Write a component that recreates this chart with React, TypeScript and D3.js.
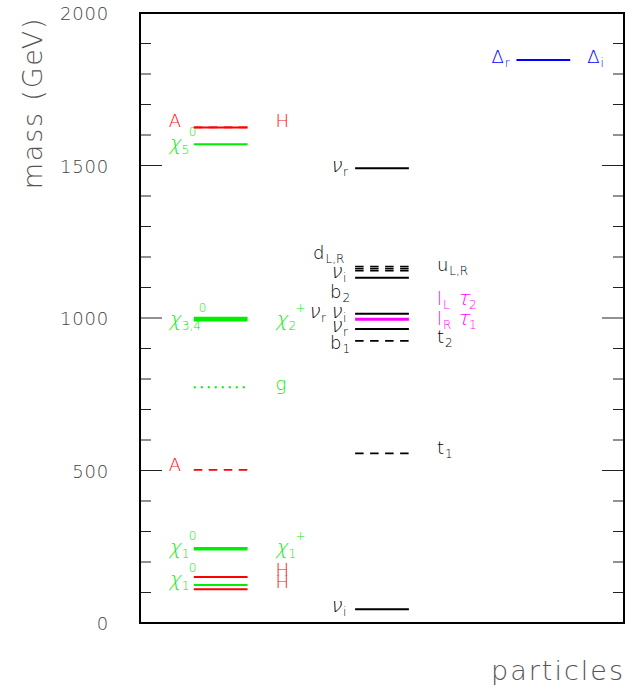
import React from "react";
import * as d3 from "d3";

// ---------- data ----------
const yTicks = [0, 500, 1000, 1500, 2000];
const minorTicks = d3.range(0, 2001, 100);

// energy levels: column (0,1,2), mass (GeV), colour, style
const levelCols = [0, 0, 0, 0, 0, 0, 0, 0, 0, 0, 0, 0, 1, 1, 1, 1, 1, 1, 1, 1, 1, 1, 1, 2];
const levelMass = [1625, 1625, 1570, 1000, 993, 773, 502, 246, 241, 151, 125, 111, 1491, 1169, 1162, 1155, 1132, 1014, 996, 964, 925, 556, 45, 1846];
const levelColor = ["red", "red", "green", "green", "green", "green", "red", "green", "green", "red", "green", "red", "black", "black", "black", "black", "black", "black", "magenta", "black", "black", "black", "black", "blue"];
const levelStyle = ["solid", "dashed", "solid", "solid", "solid", "dotted", "dashed", "solid", "solid", "solid", "solid", "solid", "solid", "dashed", "dashed", "dashed", "solid", "solid", "solid", "solid", "dashed", "dashed", "solid", "solid"];

// labels: column, side, mass at label centre, main text, subscript, superscript
type Lab = { col: number; side: "L" | "R" | "L2" | "L3"; m: number; t: string; sub?: string; sup?: string; c: string };
const labels: Lab[] = [
  { col: 0, side: "L", m: 1645, t: "A", c: "red" },
  { col: 0, side: "L", m: 1570, t: "χ", sub: "5", sup: "0", c: "green" },
  { col: 0, side: "R", m: 1645, t: "H", c: "red" },
  { col: 0, side: "L", m: 995, t: "χ", sub: "3,4", sup: "0", c: "green" },
  { col: 0, side: "R", m: 995, t: "χ", sub: "2", sup: "+", c: "green" },
  { col: 0, side: "R", m: 783, t: "g", c: "green" },
  { col: 0, side: "L", m: 518, t: "A", c: "red" },
  { col: 0, side: "L", m: 246, t: "χ", sub: "1", sup: "0", c: "green" },
  { col: 0, side: "R", m: 246, t: "χ", sub: "1", sup: "+", c: "green" },
  { col: 0, side: "L", m: 141, t: "χ", sub: "1", sup: "0", c: "green" },
  { col: 0, side: "R", m: 173, t: "H", c: "red" },
  { col: 0, side: "R", m: 134, t: "H", c: "red" },
  { col: 1, side: "L", m: 1498, t: "ν", sub: "r", c: "black" },
  { col: 1, side: "L2", m: 1213, t: "d", sub: "L,R", c: "black" },
  { col: 1, side: "L", m: 1150, t: "ν", sub: "i", c: "black" },
  { col: 1, side: "L", m: 1085, t: "b", sub: "2", c: "black" },
  { col: 1, side: "L", m: 1020, t: "ν", sub: "i", c: "black" },
  { col: 1, side: "L3", m: 1020, t: "ν", sub: "r", c: "black" },
  { col: 1, side: "L", m: 975, t: "ν", sub: "r", c: "black" },
  { col: 1, side: "L", m: 917, t: "b", sub: "1", c: "black" },
  { col: 1, side: "L", m: 55, t: "ν", sub: "i", c: "black" },
  { col: 1, side: "R", m: 1175, t: "u", sub: "L,R", c: "black" },
  { col: 1, side: "R", m: 1062, t: "l", sub: "L", c: "magenta" },
  { col: 1, side: "R", m: 997, t: "l", sub: "R", c: "magenta" },
  { col: 1, side: "R", m: 937, t: "t", sub: "2", c: "black" },
  { col: 1, side: "R", m: 575, t: "t", sub: "1", c: "black" },
  { col: 2, side: "L", m: 1856, t: "Δ", sub: "r", c: "blue" },
  { col: 2, side: "R", m: 1856, t: "Δ", sub: "i", c: "blue" },
];
const tauLabels: Lab[] = [
  { col: 1, side: "R", m: 1062, t: "τ", sub: "2", c: "magenta" },
  { col: 1, side: "R", m: 997, t: "τ", sub: "1", c: "magenta" },
];

const colorMap: Record<string, string> = {
  red: "#ff0d0d",
  green: "#00ee00",
  black: "#000000",
  magenta: "#ff00ff",
  blue: "#0000ff",
};
const lineColor: Record<string, string> = {
  red: "#ff0000",
  green: "#00ee00",
  black: "#000000",
  magenta: "#ff00ff",
  blue: "#0000ff",
};

const W = 637;
const H = 688;
const FONT = "'DejaVu Sans', sans-serif";

export default function App() {
  const y = d3.scaleLinear().domain([0, 2000]).range([623, 13]);
  const x = d3.scaleLinear().domain([0, 3]).range([140, 624]);
  const half = 1 / 6;

  const levels = levelMass.map((m, i) => ({
    col: levelCols[i],
    m,
    color: levelColor[i],
    style: levelStyle[i],
  }));

  const dash = (s: string) => (s === "dashed" ? "8.5,6.5" : s === "dotted" ? "2,5" : undefined);
  const widthOf = (l: { color: string; style: string; m: number }) =>
    l.color === "magenta" ? 3 : l.style === "dotted" ? 2 : l.style === "dashed" ? 1.6 : l.color === "green" && (l.m === 1000 || l.m === 993) ? 2.5 : 2;

  const labelX = (l: Lab) => {
    const c = l.col + 0.5;
    if (l.side === "L") return x(c - half) - 25;
    if (l.side === "L2") return x(c - half) - 42;
    if (l.side === "L3") return x(c - half) - 47;
    return x(c + half) + (l.col === 2 ? 17 : 28);
  };

  const greekW: Record<string, number> = { "ν": 12, "χ": 12, "τ": 11 };

  const renderLabel = (l: Lab, key: string, dx = 0) => {
    const lx = labelX(l) + dx;
    const ly = y(l.m) + 6;
    const col = colorMap[l.c];
    const greek = l.t in greekW;
    const mainW = greek ? greekW[l.t] : 0;
    return (
      <g key={key} fill={col} fontFamily={FONT} fontWeight={300}>
        {greek ? (
          <>
            <text transform={`translate(${lx},${ly}) skewX(-14)`} fontSize={20}>
              {l.t}
            </text>
            {l.sub && (
              <text x={lx + mainW + 1} y={ly + 4} fontSize={12}>
                {l.sub}
              </text>
            )}
          </>
        ) : (
          <text x={lx} y={ly} fontSize={18}>
            {l.t}
            {l.sub && (
              <tspan fontSize={12} dy={4} dx={1}>
                {l.sub}
              </tspan>
            )}
          </text>
        )}
        {l.sup && (
          <text x={lx + (l.sub && l.sub.length > 1 ? 30 : 20)} y={ly - 14} fontSize={12}>
            {l.sup}
          </text>
        )}
      </g>
    );
  };

  return (
    <svg width={W} height={H} style={{ position: "absolute", left: 0, top: 0, background: "#fff" }}>
      {/* levels */}
      {levels.map((l, i) => {
        const c = l.col + 0.5;
        return (
          <line
            key={"lv" + i}
            x1={x(c - half)}
            x2={x(c + half)}
            y1={y(l.m)}
            y2={y(l.m)}
            stroke={lineColor[l.color]}
            strokeWidth={widthOf(l)}
            strokeDasharray={dash(l.style)}
          />
        );
      })}

      {/* labels */}
      {labels.map((l, i) => renderLabel(l, "lb" + i))}
      {tauLabels.map((l, i) => renderLabel(l, "tau" + i, 20))}

      {/* ticks */}
      {minorTicks.map((t) => {
        const len = t % 500 === 0 ? 22 : 11;
        return (
          <g key={"tk" + t} stroke="#222" strokeWidth={1}>
            <line x1={x(0)} x2={x(0) + len} y1={y(t)} y2={y(t)} />
            <line x1={x(3)} x2={x(3) - len} y1={y(t)} y2={y(t)} />
          </g>
        );
      })}

      {/* frame */}
      <rect x={x(0)} y={y(2000)} width={x(3) - x(0)} height={y(0) - y(2000)} fill="none" stroke="#000" strokeWidth={2} />

      {/* tick labels */}
      {yTicks.map((t) => (
        <text
          key={"tl" + t}
          x={109}
          y={y(t) + 7}
          textAnchor="end"
          fontFamily={FONT}
          fontWeight={300}
          fontSize={18}
          fill="#444"
          letterSpacing={0.8}
        >
          {t}
        </text>
      ))}

      {/* axis titles */}
      <text
        transform={`translate(42,103) rotate(-90)`}
        textAnchor="middle"
        fontFamily={FONT}
        fontWeight={300}
        fontSize={27}
        fill="#555"
        letterSpacing={1.8}
      >
        mass (GeV)
      </text>
      <text
        x={491}
        y={680}
        fontFamily={FONT}
        fontWeight={300}
        fontSize={27}
        fill="#555"
        textLength={132}
        lengthAdjust="spacing"
      >
        particles
      </text>
    </svg>
  );
}
